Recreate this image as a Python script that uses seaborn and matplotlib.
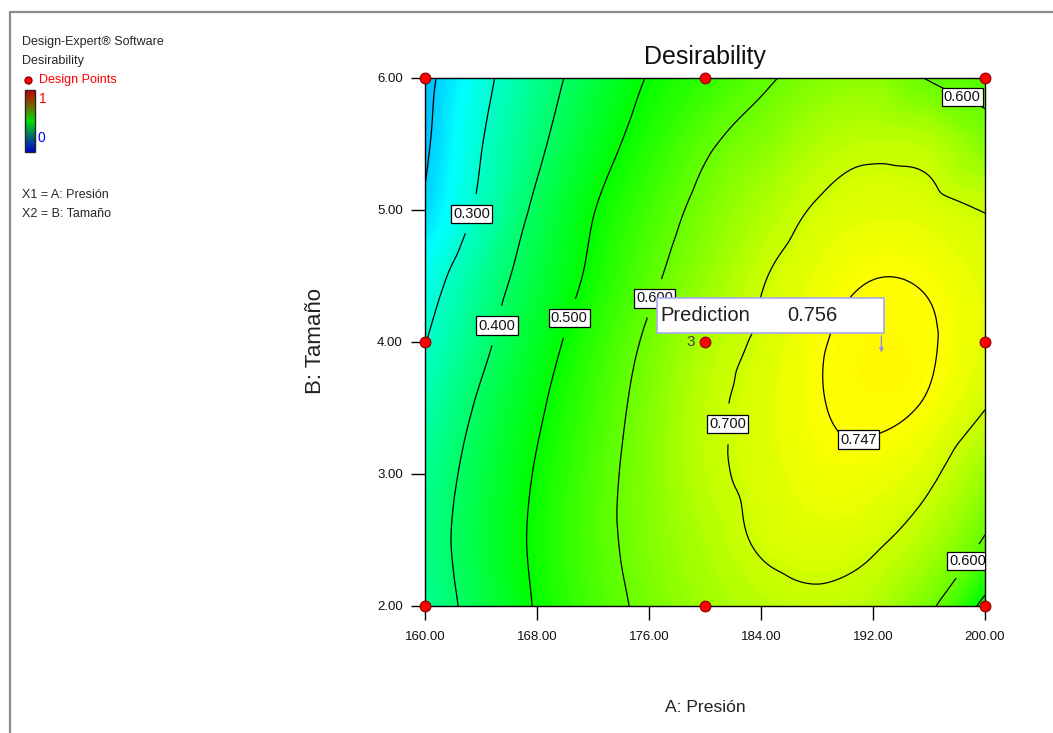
import matplotlib
matplotlib.use("Agg")
import matplotlib.pyplot as plt
import matplotlib.tri as mtri
from matplotlib.colors import LinearSegmentedColormap, Normalize
from matplotlib.cm import ScalarMappable
from matplotlib.patches import Rectangle
from matplotlib.lines import Line2D
import numpy as np
import pandas as pd
import seaborn as sns

# Desirability, one list per B: Tamaño row
presion = [160, 164, 168, 172, 176, 180, 184, 188, 192, 196, 200]
tamano = [2.0, 2.5, 3.0, 3.5, 4.0, 4.5, 5.0, 5.5, 6.0]

d_20 = [0.355, 0.431, 0.506, 0.568, 0.616, 0.655, 0.680, 0.690, 0.675, 0.612, 0.480]
d_25 = [0.365, 0.440, 0.513, 0.576, 0.626, 0.670, 0.706, 0.718, 0.708, 0.670, 0.595]
d_30 = [0.355, 0.431, 0.506, 0.572, 0.630, 0.684, 0.714, 0.735, 0.734, 0.710, 0.650]
d_35 = [0.330, 0.412, 0.489, 0.560, 0.625, 0.685, 0.716, 0.744, 0.753, 0.742, 0.701]
d_40 = [0.298, 0.382, 0.465, 0.541, 0.611, 0.672, 0.708, 0.743, 0.755, 0.750, 0.722]
d_45 = [0.264, 0.355, 0.438, 0.514, 0.585, 0.643, 0.695, 0.728, 0.746, 0.742, 0.720]
d_50 = [0.210, 0.315, 0.414, 0.497, 0.562, 0.620, 0.667, 0.705, 0.720, 0.715, 0.698]
d_55 = [0.190, 0.297, 0.385, 0.465, 0.532, 0.590, 0.630, 0.670, 0.688, 0.680, 0.630]
d_60 = [0.180, 0.278, 0.363, 0.438, 0.504, 0.546, 0.588, 0.625, 0.635, 0.597, 0.575]

# Contour levels and where their labels sit
niveles = [0.2, 0.3, 0.4, 0.5, 0.6, 0.7, 0.747]
etiquetas = [(163.0, 4.98), (164.9, 4.13), (170.0, 4.19), (175.9, 4.35),
             (181.8, 3.38), (190.9, 3.32), (198.6, 5.91), (198.2, 2.38)]

# Design points (factorial + center)
puntos_a = [160, 180, 200, 160, 180, 200, 160, 180, 200]
puntos_b = [2, 2, 2, 4, 4, 4, 6, 6, 6]
replicas_centro = "3"

# Flag point
pred_a, pred_b, pred_valor = 192.6, 3.9, 0.756

xticks = [160, 168, 176, 184, 192, 200]
yticks = [2, 3, 4, 5, 6]

sns.set_style("white")
plt.rcParams['font.family'] = ['Liberation Sans', 'DejaVu Sans']

cmap = LinearSegmentedColormap.from_list(
    "de", [(0, "#0000ff"), (0.25, "#00ffff"), (0.5, "#00ff00"), (0.75, "#ffff00"), (1, "#ff0000")])
cmap_leyenda = LinearSegmentedColormap.from_list(
    "de_ley", [(0, "#0000d0"), (0.25, "#006a70"), (0.5, "#00e000"), (0.75, "#7a6000"), (1, "#c80000")])

W, H = 1053, 733
fig = plt.figure(figsize=(W / 100, H / 100), dpi=100)
ax = fig.add_axes([425 / W, 1 - 606 / H, 560 / W, 528 / H])

# grid -> smooth surface
zz = np.array([d_20, d_25, d_30, d_35, d_40, d_45, d_50, d_55, d_60])
XX, YY = np.meshgrid(presion, tamano)
tri = mtri.Triangulation(XX.ravel(), YY.ravel())
interp = mtri.CubicTriInterpolator(tri, zz.ravel(), kind="geom")
refiner = mtri.UniformTriRefiner(tri)
tri_f, z_f = refiner.refine_field(zz.ravel(), triinterpolator=interp, subdiv=4)

ax.tricontourf(tri_f, z_f, levels=np.linspace(0, 1, 201), cmap=cmap, vmin=0, vmax=1)
cs = ax.tricontour(tri_f, z_f, levels=niveles, colors="black", linewidths=0.9)
textos = ax.clabel(cs, manual=etiquetas, fmt="%.3f", inline=True, inline_spacing=2, fontsize=10.5)
for t in textos:
    t.set_rotation(0)
    t.set_color("#111111")
    t.set_bbox(dict(boxstyle="square,pad=0.15", fc="white", ec="black", lw=0.9))

pts = pd.DataFrame({"A": puntos_a, "B": puntos_b})
sns.scatterplot(data=pts, x="A", y="B", color="#ff0000", edgecolor="#8a0000",
                linewidth=0.8, s=60, ax=ax, zorder=6, clip_on=False, legend=False)
ax.text(179.3, 4.0, replicas_centro, ha="right", va="center", fontsize=11, color="#404040", zorder=6)

# prediction flag
ax.add_patch(Rectangle((176.57, 4.068), 16.22, 0.265, fc="white", ec="#a8a8f0", lw=1.2, zorder=7))
ax.text(176.8, 4.2, "Prediction", ha="left", va="center", fontsize=14.5, color="#202020", zorder=8)
ax.text(189.5, 4.2, f"{pred_valor:.3f}", ha="right", va="center", fontsize=14.5, color="#202020", zorder=8)
ax.annotate("", xy=(pred_a, pred_b), xytext=(pred_a, 4.068),
            arrowprops=dict(arrowstyle="-|>", color="#9090f0", lw=1, mutation_scale=6), zorder=8)

ax.set_xlim(160, 200)
ax.set_ylim(2, 6)
ax.set_xticks(xticks)
ax.set_xticklabels([f"{v:.2f}" for v in xticks])
ax.set_yticks(yticks)
ax.set_yticklabels([f"{v:.2f}" for v in yticks])
ax.tick_params(direction="out", length=10, width=1, color="black", labelsize=9.5,
               labelcolor="#111111", bottom=True, left=True)
ax.tick_params(axis="x", pad=8)
ax.tick_params(axis="y", pad=6)
for s in ax.spines.values():
    s.set_color("black")
    s.set_linewidth(1)

ax.set_xlabel("A: Presión", fontsize=12.6, color="#222222")
ax.xaxis.set_label_coords(0.5, (606 - 700) / 528)
ax.set_ylabel("B: Tamaño", fontsize=16, color="#222222")
ax.yaxis.set_label_coords((326 - 425) / 560, (606 - 341) / 528)
ax.text(0.5, 1 + (78 - 57) / 528, "Desirability", transform=ax.transAxes,
        ha="center", va="center", fontsize=18, color="#111111")

# outer frame
fig.add_artist(Line2D([10 / W, 1], [1 - 12 / H] * 2, transform=fig.transFigure, color="#8c8c8c", lw=1.6))
fig.add_artist(Line2D([10 / W] * 2, [0, 1 - 12 / H], transform=fig.transFigure, color="#8c8c8c", lw=1.6))

# left-hand legend block
fs = 9
fig.text(22 / W, 1 - 42 / H, "Design-Expert® Software", va="center", fontsize=fs)
fig.text(22 / W, 1 - 61 / H, "Desirability", va="center", fontsize=fs)
fig.add_artist(Line2D([28 / W], [1 - 80 / H], transform=fig.transFigure, marker="o", ms=5,
                      mfc="#ff0000", mec="#8a0000", ls="none"))
fig.text(39 / W, 1 - 80 / H, "Design Points", va="center", fontsize=fs, color="#ff0000")
cax = fig.add_axes([25 / W, 1 - 152 / H, 10 / W, 62 / H])
cb = fig.colorbar(ScalarMappable(Normalize(0, 1), cmap_leyenda), cax=cax)
cb.set_ticks([])
cb.outline.set_linewidth(1)
fig.text(39 / W, 1 - 99 / H, "1", va="center", fontsize=fs + 1, color="#ff0000")
fig.text(38 / W, 1 - 138 / H, "0", va="center", fontsize=fs + 1, color="#0000ff")
fig.text(22 / W, 1 - 195 / H, "X1 = A: Presión", va="center", fontsize=fs)
fig.text(22 / W, 1 - 214 / H, "X2 = B: Tamaño", va="center", fontsize=fs)

fig.savefig("out.png", dpi=100)
